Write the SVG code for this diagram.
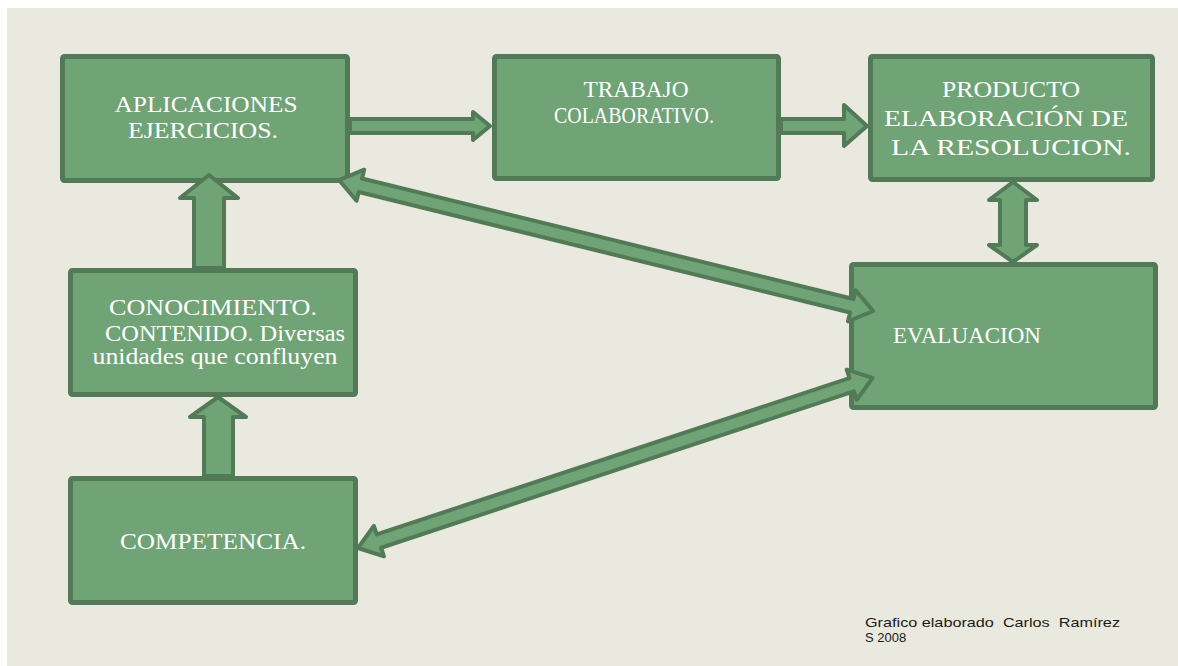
<svg xmlns="http://www.w3.org/2000/svg" width="1178" height="666" viewBox="0 0 1178 666">
<style>
.box{fill:#70A376;stroke:#527A56;stroke-width:5;}
.arr{fill:#70A376;stroke:#527A56;stroke-width:4;stroke-linejoin:round;}
.t{font-family:"Liberation Serif","Times New Roman",serif;font-size:23px;fill:#FFFFFF;text-anchor:middle;}
.big{font-size:24px;}
.f{font-family:"Liberation Sans",Arial,sans-serif;font-size:13px;fill:#1A1A1A;white-space:pre;}
</style>
<rect x="0" y="0" width="1178" height="666" fill="#FFFFFF"/>
<rect x="7" y="8" width="1171" height="658" fill="#EAE9DF"/>
<g id="aplicaciones">
<rect class="box" x="62.5" y="56.5" width="285" height="124" rx="2"/>
<text class="t" x="206" y="112" textLength="183" lengthAdjust="spacingAndGlyphs">APLICACIONES</text>
<text class="t" x="203" y="138" textLength="150" lengthAdjust="spacingAndGlyphs">EJERCICIOS.</text>
</g>
<g id="trabajo">
<rect class="box" x="494.5" y="56.5" width="284" height="122" rx="2"/>
<text class="t" x="636" y="97" textLength="105" lengthAdjust="spacingAndGlyphs">TRABAJO</text>
<text class="t" x="634" y="123" textLength="160" lengthAdjust="spacingAndGlyphs">COLABORATIVO.</text>
</g>
<g id="producto">
<rect class="box" x="870.5" y="56.5" width="282" height="123" rx="2"/>
<text class="t big" x="1011" y="97" textLength="138" lengthAdjust="spacingAndGlyphs">PRODUCTO</text>
<text class="t big" x="1006" y="126" textLength="244" lengthAdjust="spacingAndGlyphs">ELABORACIÓN DE</text>
<text class="t big" x="1011" y="155" textLength="240" lengthAdjust="spacingAndGlyphs">LA RESOLUCION.</text>
</g>
<g id="evaluacion">
<rect class="box" x="851.5" y="264.5" width="304" height="143" rx="2"/>
<text class="t" x="967" y="343" textLength="148" lengthAdjust="spacingAndGlyphs">EVALUACION</text>
</g>
<g id="conocimiento">
<rect class="box" x="70.5" y="270.5" width="285" height="124" rx="2"/>
<text class="t" x="213" y="315" textLength="208" lengthAdjust="spacingAndGlyphs">CONOCIMIENTO.</text>
<text class="t" x="225" y="341" textLength="240" lengthAdjust="spacingAndGlyphs">CONTENIDO. Diversas</text>
<text class="t" x="215" y="364" textLength="245" lengthAdjust="spacingAndGlyphs">unidades  que confluyen</text>
</g>
<g id="competencia">
<rect class="box" x="70.5" y="478.5" width="285" height="124" rx="2"/>
<text class="t" x="213" y="549" textLength="186" lengthAdjust="spacingAndGlyphs">COMPETENCIA.</text>
</g>
<g id="connectors">
<polygon class="arr" points="350,119 473,119 473,112 490,126 473,140 473,133 350,133"/>
<polygon class="arr" points="781,119 844,119 844,105 867,126 844,146 844,133 781,133"/>
<polygon class="arr" points="1013,182 1037,200 1026,200 1026,245 1037,245 1013,262 989,245 1000,245 1000,200 989,200"/>
<polygon class="arr" points="209,175 238,198 224,198 224,268 194,268 194,198 180,198"/>
<polygon class="arr" points="218,397 246,417 233,417 233,476 204,476 204,417 190,417"/>
<polygon class="arr" transform="translate(339,180) rotate(13.78)" points="0,0 22,-16 22,-7 528,-7 528,-16 550,0 528,16 528,7 22,7 22,16"/>
<polygon class="arr" transform="translate(358,548) rotate(-18.3)" points="0,0 22,-16 22,-7 520,-7 520,-16 542,0 520,16 520,7 22,7 22,16"/>
</g>
<g id="credit">
<text class="f" x="865" y="627" textLength="255" lengthAdjust="spacingAndGlyphs">Grafico elaborado  Carlos  Ramírez</text>
<text class="f" x="865" y="642">S 2008</text>
</g>
</svg>
